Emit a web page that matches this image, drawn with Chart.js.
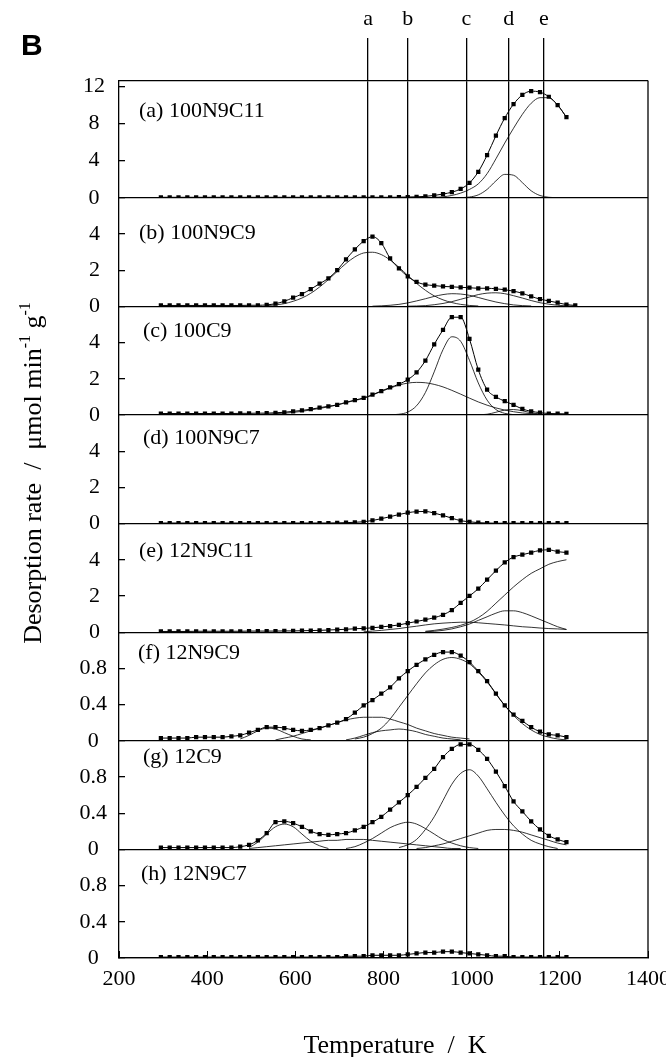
<!DOCTYPE html>
<html lang="en">
<head>
<meta charset="UTF-8">
<title>Desorption profiles</title>
<script src="https://cdn.jsdelivr.net/npm/chart.js"></script>
<style>
  html, body { margin: 0; padding: 0; background: #fff; }
  #wrap { position: relative; width: 666px; height: 1057px; }
</style>
</head>
<body>
<div id="wrap"><canvas id="tpd"></canvas></div>
<script>
const _ = null;

// temperature of each measured point (K)
const temps = [
  295, 315, 335, 355, 375, 395, 415, 435,
  455, 475, 495, 515, 535, 555, 575, 595,
  615, 635, 655, 675, 695, 715, 735, 755,
  775, 795, 815, 835, 855, 875, 895, 915,
  935, 955, 975, 995, 1015, 1035, 1055, 1075,
  1095, 1115, 1135, 1155, 1175, 1195, 1215, 1235
];

// (a) 100N9C11
const rateA = [
  .05, .05, .05, .05, .05, .05, .05, .05,
  .05, .05, .05, .05, .05, .05, .05, .05,
  .05, .05, .05, .05, .05, .05, .05, .05,
  .05, .05, .05, .06, .08, .1, .15, .25,
  .4, .6, .95, 1.6, 2.8, 4.6, 6.7, 8.6,
  10.1, 11.1, 11.5, 11.4, 10.9, 10.0, 8.7, _
];
const fitA1 = [
  _, _, _, _, _, _, _, _,
  _, _, _, _, _, _, _, _,
  _, _, _, _, _, _, _, _,
  _, _, _, _, _, _, _, _,
  _, _, .01, .08, .31, .9, 1.82, 2.52,
  2.43, 1.63, .75, .24, .05, .01, _, _
];
const fitA2 = [
  _, _, _, _, _, _, _, _,
  _, _, _, _, _, _, _, _,
  _, _, _, _, _, _, _, _,
  _, _, _, _, _, _, _, .05,
  .1, .25, .5, .9, 1.5, 2.6, 4.2, 5.9,
  7.5, 9.0, 10.2, 10.8, 10.8, 10.0, 8.7, _
];

// (b) 100N9C9
const rateB = [
  .05, .05, .05, .05, .05, .05, .05, .05,
  .05, .05, .06, .06, .08, .15, .28, .48,
  .68, .95, 1.25, 1.55, 2.0, 2.6, 3.15, 3.6,
  3.85, 3.5, 2.65, 2.1, 1.65, 1.35, 1.2, 1.15,
  1.1, 1.08, 1.05, 1.03, 1.0, 1.0, .97, .92,
  .84, .72, .55, .4, .3, .2, .1, .05
];
const fitB1 = [
  _, _, _, _, _, _, _, _,
  _, _, _, _, .04, .08, .15, .28,
  .46, .72, 1.07, 1.48, 1.93, 2.37, 2.73, 2.95,
  2.99, 2.86, 2.56, 2.16, 1.71, 1.27, .89, .58,
  .36, .21, .11, .05, .02, _, _, _,
  _, _, _, _, _, _, _, _
];
const fitB2 = [
  _, _, _, _, _, _, _, _,
  _, _, _, _, _, _, _, _,
  _, _, _, _, _, _, _, _,
  .01, .03, .06, .11, .19, .3, .42, .55,
  .65, .7, .68, .61, .49, .36, .24, .15,
  .08, .04, .02, _, _, _, _, _
];
const fitB3 = [
  _, _, _, _, _, _, _, _,
  _, _, _, _, _, _, _, _,
  _, _, _, _, _, _, _, _,
  _, _, _, _, .01, .02, .04, .09,
  .16, .26, .39, .52, .65, .73, .75, .7,
  .59, .46, .32, .2, .12, .06, .03, .01
];

// (c) 100C9
const rateC = [
  .08, .08, .08, .08, .08, .08, .08, .08,
  .08, .09, .09, .1, .1, .12, .15, .2,
  .25, .32, .4, .48, .56, .7, .82, .94,
  1.12, 1.32, 1.52, 1.7, 1.95, 2.35, 3.0, 3.9,
  4.7, 5.4, 5.4, 4.2, 2.5, 1.4, 1.0, .76,
  .56, .33, .2, .13, .08, .07, .06, _
];
const fitC1 = [
  _, _, _, _, _, _, _, _,
  _, _, .01, .02, .04, .07, .1, .14,
  .2, .28, .36, .45, .55, .68, .8, .92,
  1.1, 1.3, 1.48, 1.65, 1.76, 1.8, 1.78, 1.69,
  1.55, 1.36, 1.15, .93, .72, .54, .39, .27,
  .18, .11, .07, .04, .02, _, _, _
];
const fitC2 = [
  _, _, _, _, _, _, _, _,
  _, _, _, _, _, _, _, _,
  _, _, _, _, _, _, _, _,
  _, _, .01, .04, .16, .51, 1.24, 2.38,
  3.61, 4.32, 4.07, 3.02, 1.77, .82, .3, .09,
  .02, _, _, _, _, _, _, _
];
const fitC3 = [
  _, _, _, _, _, _, _, _,
  _, _, _, _, _, _, _, _,
  _, _, _, _, _, _, _, _,
  _, _, _, _, _, _, _, _,
  _, _, _, _, .01, .04, .15, .27,
  .3, .23, .12, .05, .02, _, _, _
];

// (d) 100N9C7
const rateD = [
  .03, .03, .03, .03, .03, .03, .03, .03,
  .03, .03, .03, .03, .03, .03, .03, .03,
  .03, .03, .03, .03, .04, .05, .07, .1,
  .17, .27, .38, .5, .6, .66, .67, .58,
  .45, .3, .16, .1, .05, .03, .02, .02,
  .02, .02, .02, .02, .02, .02, .02, _
];

// (e) 12N9C11
const rateE = [
  .04, .04, .04, .04, .05, .05, .05, .05,
  .05, .05, .06, .06, .06, .06, .07, .07,
  .08, .09, .1, .12, .14, .16, .19, .21,
  .24, .29, .34, .4, .5, .59, .69, .8,
  .96, 1.22, 1.62, 2.0, 2.4, 2.9, 3.4, 3.85,
  4.15, 4.28, 4.4, 4.52, 4.55, 4.45, 4.4, _
];
const fitE1 = [
  _, _, _, _, _, _, _, _,
  _, _, _, _, _, _, _, _,
  _, _, _, _, _, _, _, _,
  _, _, _, _, _, _, .05, .1,
  .17, .26, .38, .55, .8, 1.15, 1.6, 2.05,
  2.5, 2.9, 3.25, 3.5, 3.75, 3.9, 4.0, _
];
const fitE2 = [
  _, _, _, _, _, _, _, _,
  _, _, _, _, _, _, _, _,
  _, _, _, _, _, _, _, _,
  _, _, _, _, _, _, .02, .05,
  .1, .18, .3, .45, .65, .85, 1.05, 1.18,
  1.18, 1.08, .9, .7, .5, .3, .15, _
];
const fitE3 = [
  _, _, _, _, _, _, _, _,
  _, _, _, _, _, _, _, _,
  _, _, _, _, _, _, _, .02,
  .06, .1, .15, .2, .27, .33, .4, .46,
  .5, .53, .55, .55, .52, .48, .44, .4,
  .35, .3, .27, .23, .2, .18, .15, _
];

// (f) 12N9C9
const rateF = [
  .03, .03, .03, .03, .04, .04, .04, .04,
  .05, .06, .09, .12, .15, .15, .14, .12,
  .11, .12, .14, .17, .2, .24, .31, .39,
  .45, .52, .59, .69, .77, .84, .9, .95,
  .98, .98, .94, .87, .77, .66, .52, .39,
  .29, .22, .15, .1, .07, .06, .04, _
];
const fitF1 = [
  _, _, _, _, _, _, _, _,
  _, .02, .06, .11, .14, .13, .09, .05,
  .02, .01, _, _, _, _, _, _,
  _, _, _, _, _, _, _, _,
  _, _, _, _, _, _, _, _,
  _, _, _, _, _, _, _, _
];
const fitF2 = [
  _, _, _, _, _, _, _, _,
  _, _, _, _, _, .01, .03, .05,
  .08, .11, .14, .17, .2, .23, .25, .26,
  .26, .26, .24, .21, .18, .14, .11, .08,
  .06, .04, .03, .02, _, _, _, _,
  _, _, _, _, _, _, _, _
];
const fitF3 = [
  _, _, _, _, _, _, _, _,
  _, _, _, _, _, _, _, _,
  _, _, _, _, _, .01, .03, .06,
  .09, .11, .12, .13, .12, .1, .07, .05,
  .03, .02, .01, _, _, _, _, _,
  _, _, _, _, _, _, _, _
];
const fitF4 = [
  _, _, _, _, _, _, _, _,
  _, _, _, _, _, _, _, _,
  _, _, _, _, _, _, .02, .04,
  .08, .14, .24, .37, .5, .63, .75, .84,
  .9, .92, .9, .85, .76, .65, .52, .39,
  .28, .19, .12, .07, .04, .02, .01, _
];

// (g) 12C9
const rateG = [
  .02, .02, .02, .02, .02, .02, .02, .02,
  .02, .03, .05, .1, .18, .3, .31, .29,
  .25, .2, .17, .16, .17, .18, .21, .25,
  .3, .36, .44, .52, .6, .69, .79, .89,
  1.02, 1.11, 1.16, 1.16, 1.1, 1.0, .86, .7,
  .53, .42, .31, .22, .15, .11, .08, _
];
const fitG1 = [
  _, _, _, _, _, _, _, _,
  _, _, .02, .08, .17, .25, .28, .25,
  .17, .09, .04, .01, _, _, _, _,
  _, _, _, _, _, _, _, _,
  _, _, _, _, _, _, _, _,
  _, _, _, _, _, _, _, _
];
const fitG2 = [
  _, _, _, _, _, _, _, _,
  _, _, .01, .02, .03, .04, .05, .06,
  .07, .08, .09, .1, .1, .11, .11, .11,
  .1, .09, .08, .07, .06, .05, .04, .03,
  .02, .01, .01, _, _, _, _, _,
  _, _, _, _, _, _, _, _
];
const fitG3 = [
  _, _, _, _, _, _, _, _,
  _, _, _, _, _, _, _, _,
  _, _, _, _, _, .01, .03, .07,
  .12, .18, .24, .28, .3, .28, .23, .17,
  .11, .07, .04, .02, .01, _, _, _,
  _, _, _, _, _, _, _, _
];
const fitG4 = [
  _, _, _, _, _, _, _, _,
  _, _, _, _, _, _, _, _,
  _, _, _, _, _, _, _, _,
  _, _, _, .02, .05, .11, .22, .36,
  .54, .72, .84, .88, .81, .67, .52, .38,
  .26, .17, .1, .06, .03, .01, _, _
];
const fitG5 = [
  _, _, _, _, _, _, _, _,
  _, _, _, _, _, _, _, _,
  _, _, _, _, _, _, _, _,
  _, _, _, _, _, .01, .02, .04,
  .06, .09, .12, .15, .18, .21, .22, .22,
  .21, .19, .16, .13, .1, .07, .05, _
];

// (h) 12N9C7
const rateH = [
  .01, .01, .01, .01, .01, .01, .01, .01,
  .01, .01, .01, .01, .01, .01, .01, .01,
  .01, .01, .01, .01, .01, .02, .02, .02,
  .03, .03, .03, .03, .04, .05, .06, .06,
  .07, .07, .06, .05, .04, .03, .02, .02,
  .01, .01, .01, .01, .01, .01, .01, _
];

const panelNames = ['(a) 100N9C11', '(b) 100N9C9', '(c) 100C9', '(d) 100N9C7',
                    '(e) 12N9C11', '(f) 12N9C9', '(g) 12C9', '(h) 12N9C7'];
const panelRates = [rateA, rateB, rateC, rateD, rateE, rateF, rateG, rateH];
const panelFits = [[fitA1, fitA2], [fitB1, fitB2, fitB3], [fitC1, fitC2, fitC3], [],
                   [fitE1, fitE2, fitE3], [fitF1, fitF2, fitF3, fitF4],
                   [fitG1, fitG2, fitG3, fitG4, fitG5], []];
const panelMax = [12.6, 6, 6, 6, 6, 1.2, 1.2, 1.2];
const panelTicks = [[0, 4, 8, 12], [0, 2, 4], [0, 2, 4], [0, 2, 4], [0, 2, 4],
                    [0, 0.4, 0.8], [0, 0.4, 0.8], [0, 0.4, 0.8]];
const xTicks = [200, 400, 600, 800, 1000, 1200, 1400];
const lineTemps = [765, 855, 988, 1084, 1164];
const lineLetters = ['a', 'b', 'c', 'd', 'e'];

// layout bits (px)
const labelInset = [20, 20, 24, 24, 20, 19, 24, 22];
const labelDrop = [36, 41, 31, 29, 33, 27, 22, 31];
const tickPad = [20, 25, 25, 25, 25, 18, 18, 18];

Chart.defaults.font.family = '"Liberation Serif", "Times New Roman", serif';
Chart.defaults.color = '#000';

const panelIds = panelNames.map((n, i) => 'y' + 'abcdefgh'[i]);
const pts = vals => temps.map((t, i) => ({x: t, y: vals[i]}));

const datasets = [];
panelIds.forEach((id, i) => {
  datasets.push({
    data: pts(panelRates[i]), yAxisID: id, xAxisID: 'x',
    borderColor: '#000', borderWidth: 1, backgroundColor: '#000',
    pointStyle: 'rect', pointRadius: 3, pointBackgroundColor: '#000', pointBorderWidth: 0,
    cubicInterpolationMode: 'monotone', order: 0
  });
  panelFits[i].forEach(f => {
    datasets.push({
      data: pts(f), yAxisID: id, xAxisID: 'x',
      borderColor: '#000', borderWidth: 0.8, pointRadius: 0,
      cubicInterpolationMode: 'monotone', order: 1
    });
  });
});

const scales = {
  x: {
    type: 'linear', position: 'bottom', min: 200, max: 1400,
    afterBuildTicks: s => { s.ticks = xTicks.map(v => ({value: v})); },
    afterFit: s => { s.height = 99; s.paddingLeft = 0; s.paddingRight = 0; },
    grid: { drawOnChartArea: false, tickLength: -7, tickColor: '#000', lineWidth: 1 },
    border: { color: '#000', width: 1.3 },
    ticks: { padding: 15, font: { size: 22 }, autoSkip: false, maxRotation: 0, callback: v => String(v) }
  },
  top: {
    type: 'linear', position: 'top', min: 200, max: 1400,
    afterBuildTicks: s => { s.ticks = lineTemps.map(v => ({value: v})); },
    afterFit: s => { s.height = 81; s.paddingLeft = 0; s.paddingRight = 0; },
    grid: { drawOnChartArea: true, color: '#000', lineWidth: 1.3, tickLength: 43 },
    border: { color: '#000', width: 1.3 },
    ticks: { padding: 6, font: { size: 22 }, autoSkip: false, maxRotation: 0, callback: (v, i) => lineLetters[i] }
  }
};

panelIds.forEach((id, i) => {
  scales[id] = {
    type: 'linear', position: 'left', stack: 'panels',
    stackWeight: i === 0 ? 1.075 : 1, weight: panelIds.length - i,
    min: 0, max: panelMax[i],
    afterBuildTicks: s => { s.ticks = panelTicks[i].map(v => ({value: v})); },
    afterFit: s => { s.width = 119; s.paddingTop = 0; s.paddingBottom = 0; },
    grid: {
      drawOnChartArea: true, tickLength: -6, tickColor: '#000', lineWidth: 1.3,
      color: c => (c.tick && c.tick.value === 0) ? '#000' : 'rgba(0,0,0,0)'
    },
    border: { color: '#000', width: 1.3 },
    ticks: { padding: tickPad[i], crossAlign: 'center', font: { size: 22 }, autoSkip: false, callback: v => String(v) }
  };
});

// frame edge, panel names, axis titles and the "B" tag
const figureText = {
  id: 'figureText',
  afterDraw(chart) {
    const { ctx, chartArea } = chart;
    ctx.save();
    ctx.strokeStyle = '#000';
    ctx.lineWidth = 1.3;
    ctx.beginPath();
    ctx.moveTo(chartArea.right, chartArea.top);
    ctx.lineTo(chartArea.right, chartArea.bottom);
    ctx.stroke();

    ctx.fillStyle = '#000';
    ctx.textBaseline = 'alphabetic';
    ctx.textAlign = 'left';
    ctx.font = '22px "Liberation Serif"';
    panelIds.forEach((id, i) => {
      ctx.fillText(panelNames[i], chartArea.left + labelInset[i], chart.scales[id].top + labelDrop[i]);
    });

    ctx.font = 'bold 30px "Liberation Sans"';
    ctx.fillText('B', 21, 55);

    ctx.font = '26px "Liberation Serif"';
    ctx.textAlign = 'center';
    ctx.fillText('Temperature  /  K', 395, 1053);

    // rotated y title with superscripts
    const main = '26px "Liberation Serif"';
    const sup = '16px "Liberation Serif"';
    const parts = [['Desorption rate  /  \u03bcmol min', main, 0], ['-1', sup, -11],
                   [' g', main, 0], ['-1', sup, -11]];
    let total = 0;
    parts.forEach(p => { ctx.font = p[1]; total += ctx.measureText(p[0]).width; });
    ctx.translate(41, 473);
    ctx.rotate(-Math.PI / 2);
    ctx.textAlign = 'left';
    let u = -total / 2;
    parts.forEach(p => {
      ctx.font = p[1];
      ctx.fillText(p[0], u, p[2]);
      u += ctx.measureText(p[0]).width;
    });
    ctx.restore();
  }
};

new Chart(document.getElementById('tpd'), {
  type: 'line',
  data: { datasets },
  options: {
    responsive: true,
    maintainAspectRatio: false,
    animation: false,
    layout: { padding: { left: 0, right: 18, top: 0, bottom: 0 } },
    plugins: { legend: { display: false }, tooltip: { enabled: false } },
    scales
  },
  plugins: [figureText]
});
</script>
</body>
</html>
